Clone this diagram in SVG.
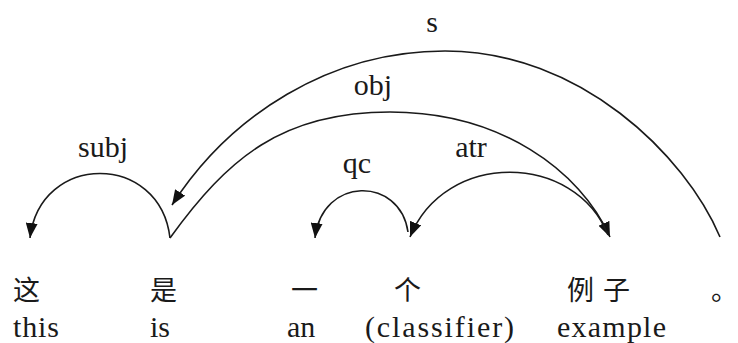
<svg xmlns="http://www.w3.org/2000/svg" width="738" height="343" viewBox="0 0 738 343">
<style>
.arc{fill:none;stroke:#1a1a1a;stroke-width:1.6}
</style>
<defs>
<marker id="ah" markerUnits="userSpaceOnUse" markerWidth="16" markerHeight="12" refX="15" refY="6" orient="auto" viewBox="0 0 16 12">
<path d="M0,0 L15,6 L0,12 Z" fill="#111"/>
</marker>
</defs>
<rect width="738" height="343" fill="#fff"/>
<g id="connectors">
<path id="e-subj" class="arc" d="M170,238 C160,152 40,152 30,238" marker-end="url(#ah)"/>
<path id="e-obj" class="arc" d="M170,238 C228,158 282,112 390,112 C500,112 580,170 610,237" marker-end="url(#ah)"/>
<path id="e-s" class="arc" d="M720,237 C685,155 580,51 445,51 C330,51 230,115 172,205" marker-end="url(#ah)"/>
<path id="e-qc" class="arc" d="M408,232 C400,176 322,176 315,238" marker-end="url(#ah)"/>
<path id="e-atr" class="arc" d="M608,235 C575,152 445,150 410,237" marker-end="url(#ah)"/>
</g>
<g id="labels" font-family="Liberation Serif, Times New Roman, serif" font-size="30" fill="#1a1a1a" text-anchor="middle" xml:lang="en">
<text x="432" y="32">s</text>
<text x="373" y="95">obj</text>
<text x="103" y="157">subj</text>
<text x="357" y="173">qc</text>
<text x="471" y="157">atr</text>
</g>
<g id="words" fill="#1a1a1a">
<g id="n-zhe"><text xml:lang="zh" font-family="Noto Sans CJK SC, sans-serif" font-size="27" x="13" y="300">这</text><text xml:lang="en" font-family="Liberation Serif, Times New Roman, serif" font-size="30" x="13" y="337" textLength="46">this</text></g>
<g id="n-shi"><text xml:lang="zh" font-family="Noto Sans CJK SC, sans-serif" font-size="27" x="150" y="300">是</text><text xml:lang="en" font-family="Liberation Serif, Times New Roman, serif" font-size="30" x="150" y="337">is</text></g>
<g id="n-yi"><text xml:lang="zh" font-family="Noto Sans CJK SC, sans-serif" font-size="27" x="291" y="300">一</text><text xml:lang="en" font-family="Liberation Serif, Times New Roman, serif" font-size="30" x="287" y="337">an</text></g>
<g id="n-ge"><text xml:lang="zh" font-family="Noto Sans CJK SC, sans-serif" font-size="27" x="394" y="300">个</text><text xml:lang="en" font-family="Liberation Serif, Times New Roman, serif" font-size="30" x="365" y="337" textLength="149">(classifier)</text></g>
<g id="n-lizi"><text xml:lang="zh" font-family="Noto Sans CJK SC, sans-serif" font-size="27" x="567" y="300" letter-spacing="9">例子</text><text xml:lang="en" font-family="Liberation Serif, Times New Roman, serif" font-size="30" x="557" y="337" textLength="109">example</text></g>
<g id="n-end"><text xml:lang="zh" font-family="Noto Sans CJK SC, sans-serif" font-size="27" x="711" y="300">。</text></g>
</g>
</svg>
